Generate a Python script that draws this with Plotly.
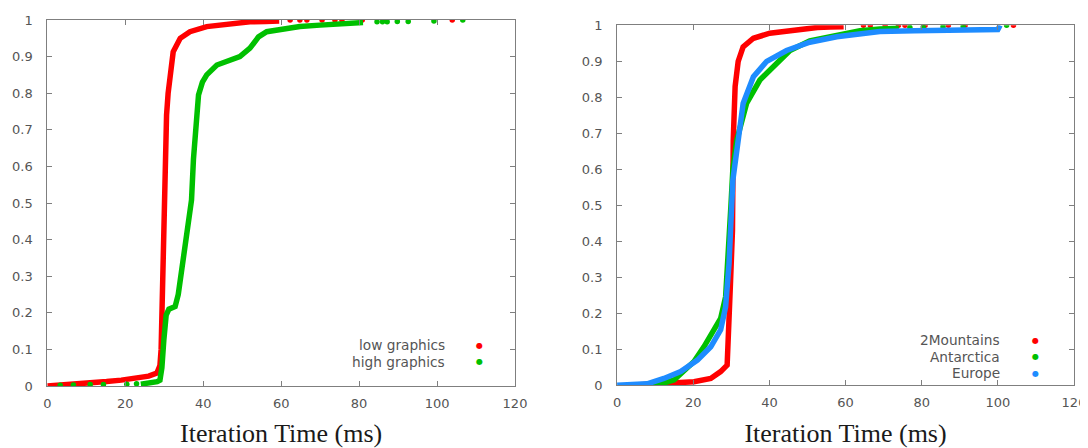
import plotly.graph_objects as go

# ---------------- data ----------------
# Left panel: CDF of iteration time, low vs high graphics
low_x = [0, 5, 10, 15.2, 19, 23.8, 26, 28.1, 28.9, 29.2, 29.4, 29.6, 29.8, 30.0, 30.2, 30.4, 30.6,
         31.0, 31.5, 32.3, 34.1, 36.6, 40.9, 46, 49.4, 52, 56, 59.5]
low_y = [0, 0.003, 0.006, 0.012, 0.016, 0.021, 0.027, 0.035, 0.056, 0.1, 0.2, 0.3, 0.4, 0.47, 0.55,
         0.65, 0.74, 0.8, 0.85, 0.913, 0.95, 0.968, 0.982, 0.988, 0.994, 0.995, 0.996, 0.997]
low_tail_x = [62.3, 64.8, 66.6, 70.5, 73.8, 75.6, 80.8, 86.9, 103.9]
low_tail_y = [1.0, 1.0, 1.0, 1.0, 1.0, 1.0, 1.0, 1.0, 1.0]

high_x = [24.0, 26.5, 28.2, 28.9, 29.4, 29.9, 30.5, 31.2, 32.8, 33.6, 34.1, 35.0, 35.8, 36.5, 37.0,
          37.5, 38.2, 38.8, 39.8, 40.9, 43.5, 46.9, 49.4, 52.0, 53.2, 54.2, 56.3, 60.6, 64.8, 70.0,
          75.9, 81.0]
high_y = [0.005, 0.008, 0.012, 0.016, 0.05, 0.126, 0.194, 0.21, 0.217, 0.25, 0.29, 0.35, 0.40, 0.46,
          0.508, 0.62, 0.72, 0.795, 0.83, 0.85, 0.877, 0.891, 0.90, 0.923, 0.94, 0.954, 0.968, 0.975,
          0.982, 0.986, 0.989, 0.993]
high_tail_x = [3.3, 6.7, 11, 14.4, 20.4, 22.9, 84.6, 86.0, 87.2, 89.8, 92.6, 99.2, 106.6]
high_tail_y = [0.002, 0.003, 0.004, 0.004, 0.005, 0.006, 0.995, 0.995, 0.995, 0.996, 0.996, 0.997, 1.0]

# Right panel: CDF of iteration time per map
mtn_x = [3.6, 8, 14.1, 20.2, 24.6, 27.2, 28.9, 29.4, 29.8, 30.3, 30.5, 31.0, 31.8, 33.1, 35.8,
         40.1, 44.5, 48.9, 52.6, 56.0, 59.5]
mtn_y = [0, 0.002, 0.005, 0.01, 0.019, 0.038, 0.056, 0.154, 0.29, 0.43, 0.68, 0.83, 0.90, 0.94,
         0.964, 0.978, 0.984, 0.989, 0.994, 0.995, 0.996]
mtn_tail_x = [64.7, 66.5, 70.4, 73.9, 75.6, 80.9, 87.0, 91.4, 104.1]
mtn_tail_y = [1.0, 1.0, 1.0, 1.0, 1.0, 1.0, 1.0, 1.0, 1.0]

ant_x = [8.0, 10.6, 12.5, 15.0, 17.5, 20.2, 22.8, 25.4, 27.2, 28.5, 29.4, 29.9, 30.4, 31.4, 34.0,
         37.5, 41.9, 45.4, 50.6, 57.7, 63.8, 69.0, 74.0]
ant_y = [0, 0.002, 0.007, 0.015, 0.038, 0.066, 0.107, 0.154, 0.186, 0.246, 0.376, 0.5, 0.6, 0.68,
         0.783, 0.848, 0.894, 0.93, 0.957, 0.974, 0.985, 0.99, 0.992]
ant_tail_x = [76.9, 80.4, 85.6, 90.9, 102.3]
ant_tail_y = [0.994, 0.995, 0.996, 0.997, 1.0]

eur_x = [0, 4, 7.9, 12.3, 16.7, 21.1, 24.6, 27.2, 28.5, 29.4, 29.8, 30.4, 31.8, 33.1, 35.8, 39.3,
         44.5, 50.6, 57.7, 63.8, 69.0, 78.0, 87.0, 94.0, 100.0, 100.6]
eur_y = [0, 0.002, 0.004, 0.019, 0.038, 0.07, 0.107, 0.154, 0.218, 0.338, 0.431, 0.57, 0.68, 0.783,
         0.857, 0.90, 0.93, 0.953, 0.968, 0.978, 0.983, 0.985, 0.986, 0.987, 0.988, 1.0]

x_ticks = [0, 20, 40, 60, 80, 100, 120]
y_ticks = [0, 0.1, 0.2, 0.3, 0.4, 0.5, 0.6, 0.7, 0.8, 0.9, 1]
x_title = "Iteration Time (ms)"
left_names = ["low graphics", "high graphics"]
right_names = ["2Mountains", "Antarctica", "Europe"]

RED = "#ff0000"
GREEN = "#00c000"
BLUE = "#1e8cff"

# page is 1088x448; the html body adds an 8px margin, so the figure is 1080x440
OFF = 8
W, H = 1080, 440


def px(v):
    return (v - OFF) / W


def py(v):
    return 1 - (v - OFF) / H


fig = go.Figure()


def add_series(x, y, tx, ty, color, xa, ya, name):
    fig.add_trace(go.Scatter(x=x, y=y, mode="lines", name=name, showlegend=False,
                             line=dict(color=color, width=5.5, shape="linear"),
                             xaxis=xa, yaxis=ya))
    if tx:
        fig.add_trace(go.Scatter(x=tx, y=ty, mode="markers", name=name, showlegend=False,
                                 marker=dict(color=color, size=5.5, line=dict(width=0)),
                                 xaxis=xa, yaxis=ya))


add_series(low_x, low_y, low_tail_x, low_tail_y, RED, "x", "y", left_names[0])
add_series(high_x, high_y, high_tail_x, high_tail_y, GREEN, "x", "y", left_names[1])
add_series(mtn_x, mtn_y, mtn_tail_x, mtn_tail_y, RED, "x2", "y2", right_names[0])
add_series(ant_x, ant_y, ant_tail_x, ant_tail_y, GREEN, "x2", "y2", right_names[1])
add_series(eur_x, eur_y, [], [], BLUE, "x2", "y2", right_names[2])

axis_common = dict(showline=True, linecolor="#7f7f7f", linewidth=1, mirror="allticks",
                   ticks="inside", ticklen=5, tickcolor="#7f7f7f", tickwidth=1,
                   showgrid=False, zeroline=False, automargin=False,
                   tickfont=dict(family="DejaVu Sans", size=13, color="#555555"))

xa_common = dict(axis_common, range=[0, 120], tickvals=x_ticks,
                 ticktext=[str(v) for v in x_ticks], ticklabelstandoff=5,
                 title=dict(text=x_title, standoff=14,
                            font=dict(family="Liberation Serif", size=26, color="#1a1a1a")))
ya_common = dict(axis_common, range=[0, 1], tickvals=y_ticks,
                 ticktext=[("%g" % v) for v in y_ticks], ticklabelstandoff=11)

fig.update_layout(
    width=W, height=H,
    margin=dict(l=0, r=0, t=0, b=0),
    paper_bgcolor="white", plot_bgcolor="white",
    showlegend=False,
    xaxis=dict(xa_common, domain=[px(47.3), px(515)], anchor="y"),
    yaxis=dict(ya_common, domain=[py(386), py(20)], anchor="x"),
    xaxis2=dict(xa_common, domain=[px(617.1), px(1074)], anchor="y2"),
    yaxis2=dict(ya_common, domain=[py(385.3), py(25.3)], anchor="x2"),
)

legend_font = dict(family="DejaVu Sans", size=13.7, color="#555555")


def legend_entry(label, color, text_right_px, marker_px, y_px):
    fig.add_annotation(text=label, xref="paper", yref="paper", x=px(text_right_px),
                       y=py(y_px), xanchor="right", yanchor="middle", showarrow=False,
                       font=legend_font)
    fig.add_annotation(text="●", xref="paper", yref="paper", x=px(marker_px),
                       y=py(y_px), xanchor="center", yanchor="middle", showarrow=False,
                       font=dict(family="DejaVu Sans", size=8, color=color))


legend_entry(left_names[0], RED, 446.7, 479, 345)
legend_entry(left_names[1], GREEN, 446.7, 479, 361.5)
legend_entry(right_names[0], RED, 1002, 1035, 340)
legend_entry(right_names[1], GREEN, 1002, 1035, 356.7)
legend_entry(right_names[2], BLUE, 1002, 1035, 373.3)

fig.write_html("out.html")
